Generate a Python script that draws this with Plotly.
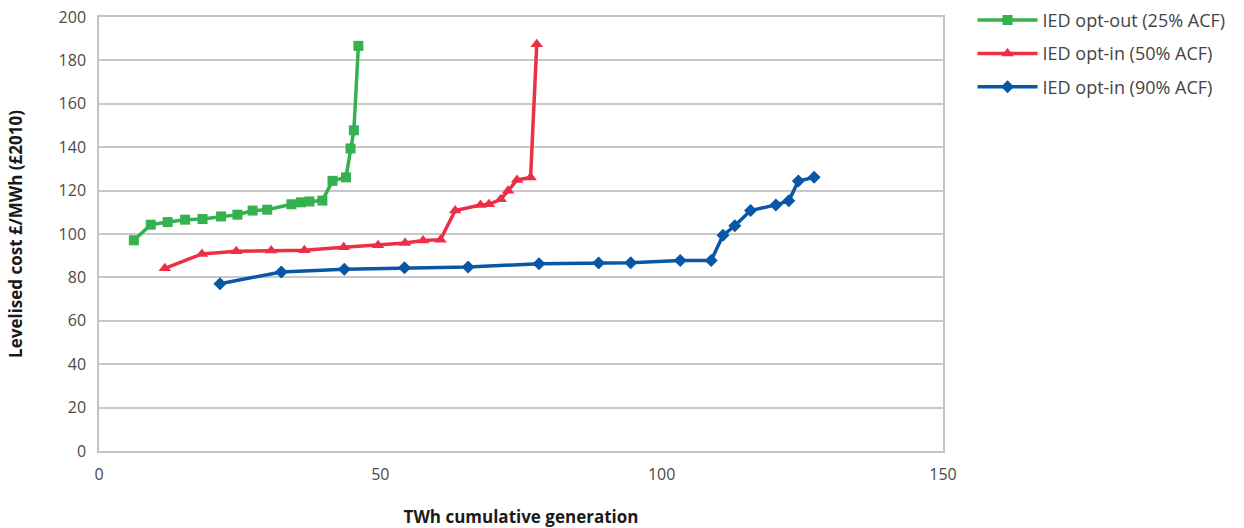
import plotly.graph_objects as go

green_x = [6.2, 9.2, 12.2, 15.3, 18.4, 21.7, 24.6, 27.3, 29.9, 34.2, 35.9, 37.4, 39.7, 41.5, 43.9, 44.7, 45.3, 46.1]
green_y = [97.1, 104.3, 105.5, 106.6, 106.9, 108.1, 108.9, 110.8, 111.2, 113.7, 114.6, 115.0, 115.4, 124.5, 126.1, 139.4, 147.8, 186.7]

red_x = [11.7, 18.3, 24.4, 30.6, 36.5, 43.5, 49.6, 54.4, 57.6, 60.7, 63.3, 67.8, 69.3, 71.4, 72.7, 74.3, 76.7, 77.8]
red_y = [84.2, 90.8, 92.1, 92.4, 92.5, 93.9, 94.8, 95.9, 97.0, 97.4, 110.8, 113.4, 113.7, 116.0, 119.9, 124.9, 126.0, 187.4]

blue_x = [21.5, 32.4, 43.6, 54.3, 65.6, 78.2, 88.8, 94.5, 103.3, 108.8, 110.9, 113.0, 115.8, 120.3, 122.6, 124.3, 127.1]
blue_y = [77.1, 82.5, 83.7, 84.4, 84.8, 86.3, 86.6, 86.7, 87.8, 87.8, 99.4, 103.8, 110.8, 113.4, 115.3, 124.4, 126.1]

names = ["IED opt-out (25% ACF)", "IED opt-in (50% ACF)", "IED opt-in (90% ACF)"]
colors = ["#35b14f", "#ec2f47", "#0856a6"]
symbols = ["square", "triangle-up", "diamond"]
msizes = [10, 11, 10]

x_ticks = [0, 50, 100, 150]
y_ticks = list(range(0, 201, 20))

fig = go.Figure()
for i, (xs, ys) in enumerate([(green_x, green_y), (red_x, red_y), (blue_x, blue_y)]):
    fig.add_trace(go.Scatter(
        x=xs, y=ys, name=names[i], mode="lines+markers",
        line=dict(color=colors[i], width=3.5),
        marker=dict(symbol=symbols[i], size=msizes[i], color=colors[i]),
        legendgroup=str(i),
    ))

axis_font = dict(family="Open Sans, sans-serif", size=16, color="#4a4a4a")
fig.update_layout(
    width=1244, height=528,
    margin=dict(l=99, r=301, t=17, b=77, autoexpand=False),
    paper_bgcolor="white", plot_bgcolor="white",
    font=dict(family="Open Sans, sans-serif", size=16, color="#3a3a3a"),
    xaxis=dict(range=[0, 150], tickvals=x_ticks, showgrid=False, zeroline=False,
               showline=True, linecolor="#c4c4c4", linewidth=1.5, mirror=True,
               ticks="", tickfont=axis_font, ticklabelstandoff=8, automargin=False,
               title=dict(text="<b>TWh cumulative generation</b>", font=dict(size=17, color="#1a1a1a"), standoff=28)),
    yaxis=dict(range=[0, 200], tickvals=y_ticks, showgrid=True, gridcolor="#c8c8c8", gridwidth=1.5,
               zeroline=False, showline=True, linecolor="#c4c4c4", linewidth=1.5, mirror=True,
               ticks="", tickfont=axis_font, ticklabelstandoff=8, automargin=False,
               title=dict(text="<b>Levelised cost £/MWh (£2010)</b>", font=dict(size=17, color="#1a1a1a"), standoff=32)),
    legend=dict(x=1.035, y=1.035, xanchor="left", yanchor="top", traceorder="grouped",
                tracegroupgap=7, itemwidth=60, font=dict(size=18, color="#444444"), bgcolor="rgba(0,0,0,0)"),
    showlegend=True,
)

fig.write_html("out.html")
